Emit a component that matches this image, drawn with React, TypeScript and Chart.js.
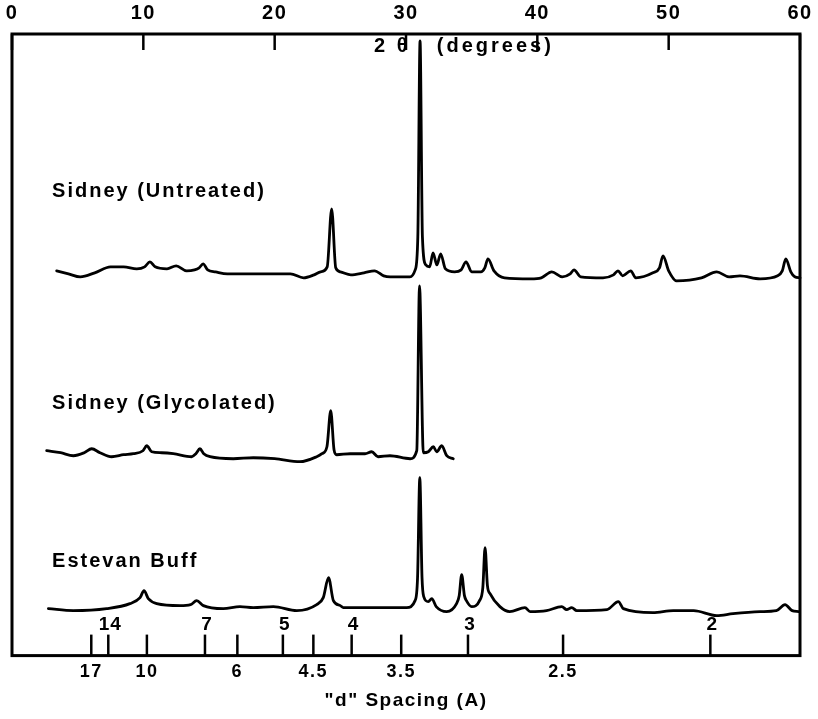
import React, { useEffect, useRef } from 'react';
import { Chart, registerables } from 'chart.js';

Chart.register(...registerables);

// Co K-alpha wavelength (Å) used to place the "d" spacing ticks on the 2θ scale
const WAVELENGTH = 1.7902;

const topTicks = [0, 10, 20, 30, 40, 50, 60];
const dBelow = ['17', '10', '6', '4.5', '3.5', '2.5'];
const dAbove = ['14', '7', '5', '4', '3', '2'];

const traceNames = ['Sidney (Untreated)', 'Sidney (Glycolated)', 'Estevan Buff'];
const traceOffsets = [379, 200, 48];

const untreated2Theta = [3.4, 4.3, 5.2, 6.3, 7.5, 8.5, 9.5, 10.1, 10.5, 10.9, 11.8, 12.5, 13.3, 13.9, 14.25, 14.55, 14.9, 15.5, 16.4, 18.5, 21.2, 22.2, 23.0, 23.5, 24.0, 24.34, 24.65, 25.0, 25.8, 26.8, 27.6, 28.3, 28.8, 30.3, 30.7, 30.9, 31.07, 31.25, 31.5, 31.8, 32.06, 32.35, 32.64, 33.0, 33.7, 34.2, 34.57, 35.0, 35.7, 36.0, 36.24, 36.7, 37.5, 39.5, 40.3, 41.1, 41.9, 42.5, 42.79, 43.3, 45.0, 45.8, 46.14, 46.5, 47.11, 47.5, 48.8, 49.3, 49.57, 50.0, 50.6, 52.5, 53.66, 54.6, 55.43, 56.96, 58.3, 58.65, 58.92, 59.3, 59.6, 60];
const untreatedIntensity = [6, 3, 0, 4, 10, 10, 8, 10, 15, 10, 8, 11, 6, 7, 9, 13, 7, 5, 3, 3, 3, -1, 2, 5, 10, 68, 9, 5, 2, 4, 6, 1, 0, 0, 7, 40, 236, 40, 12, 10, 24, 12, 23, 8, 5, 7, 15, 5, 5, 9, 18, 6, -1, -2, -1, 5, 0, 3, 7, 0, -1, 2, 6, 1, 6, -1, 4, 9, 21, 6, -4, -1, 5, 0, 1, -2, 1, 6, 18, 5, 0, -1];

const glycolated2Theta = [2.64, 3.7, 4.67, 5.5, 6.07, 6.7, 7.59, 8.5, 9.24, 9.97, 10.26, 10.64, 11.4, 12.28, 13.68, 14.0, 14.31, 14.6, 15.08, 16.85, 18.37, 20.0, 21.93, 23.2, 23.6, 23.98, 24.27, 24.52, 24.72, 25.74, 26.88, 27.39, 27.87, 28.78, 30.31, 30.82, 31.03, 31.32, 31.7, 32.08, 32.34, 32.72, 33.1, 33.6];
const glycolatedIntensity = [5, 3, 0, 3, 7, 3, -1, 1, 2, 5, 10, 4, 3, 2, -1, 2, 7, 2, -1, -3, -2, -3, -6, -1, 2, 9, 45, 6, 1, 2, 2, 4, -1, 0, -3, 5, 170, 3, 4, 9, 4, 10, 0, -3];

const estevan2Theta = [2.77, 4.67, 7.21, 8.98, 9.75, 10.05, 10.38, 11.02, 12.79, 13.6, 14.06, 14.57, 16.09, 17.36, 18.37, 19.9, 21.68, 23.2, 23.7, 24.1, 24.47, 25.0, 25.23, 27.51, 30.05, 30.69, 30.88, 31.05, 31.22, 31.35, 31.7, 31.96, 32.3, 33.1, 33.85, 34.05, 34.24, 34.45, 34.6, 35.0, 35.6, 35.85, 36.02, 36.2, 36.4, 37.15, 37.9, 39.06, 39.45, 40.7, 41.86, 42.23, 42.62, 43.0, 45.3, 46.17, 46.55, 48.8, 50.35, 51.9, 53.66, 54.9, 56.96, 58.2, 58.86, 59.4, 59.9];
const estevanIntensity = [-1, -3, -1, 4, 10, 17, 9, 4, 2, 3, 7, 2, -1, 1, 0, 1, -3, 3, 10, 30, 7, 2, 0, 0, 0, 7, 30, 130, 30, 11, 6, 9, 1, -4, 4, 12, 33, 12, 7, 1, 7, 20, 60, 22, 14, 1, -4, 0, -4, -3, 1, -2, 0, -3, -2, 6, -1, -5, -3, -3, -8, -6, -4, -3, 3, -3, -4];

const FONT = "'Liberation Sans', Arial, sans-serif";

function twoTheta(d: number): number {
  return (2 * Math.asin(WAVELENGTH / (2 * d)) * 180) / Math.PI;
}

function buildPoints(tt: number[], inten: number[], offset: number) {
  return tt.map((t, i) => ({ x: t, y: offset + inten[i] }));
}

const decorPlugin = {
  id: 'xrdDecor',
  beforeDraw(chart: any) {
    (chart.ctx as any).letterSpacing = '1.5px';
  },
  afterDraw(chart: any) {
    const { ctx, chartArea: a, scales } = chart;
    const xs = scales.x;
    const xt = scales.xTop;
    const ys = scales.y;
    ctx.save();
    ctx.strokeStyle = '#000';
    ctx.fillStyle = '#000';
    ctx.lineCap = 'butt';
    // frame
    ctx.lineWidth = 3;
    ctx.strokeRect(a.left, a.top, a.right - a.left, a.bottom - a.top);
    // top inner ticks
    ctx.lineWidth = 2.5;
    for (const t of xt.ticks) {
      const px = xt.getPixelForValue(t.value);
      ctx.beginPath();
      ctx.moveTo(px, a.top);
      ctx.lineTo(px, a.top + 16);
      ctx.stroke();
    }
    // bottom inner ticks
    for (const d of [...dBelow, ...dAbove]) {
      const px = xs.getPixelForValue(twoTheta(parseFloat(d)));
      ctx.beginPath();
      ctx.moveTo(px, a.bottom);
      ctx.lineTo(px, a.bottom - 21);
      ctx.stroke();
    }
    // labels above inner ticks
    ctx.font = `bold 19px ${FONT}`;
    (ctx as any).letterSpacing = '1px';
    ctx.textAlign = 'center';
    ctx.textBaseline = 'middle';
    for (const d of dAbove) {
      const px = xs.getPixelForValue(twoTheta(parseFloat(d)));
      ctx.fillText(d, px + 2, a.bottom - 31);
    }
    // 2θ caption
    ctx.font = `bold 20px ${FONT}`;
    (ctx as any).letterSpacing = '3px';
    ctx.textAlign = 'right';
    ctx.fillText('2 θ', xt.getPixelForValue(30.35), a.top + 12);
    ctx.textAlign = 'left';
    ctx.fillText('(degrees)', xt.getPixelForValue(32.35), a.top + 12);
    // trace names
    const nameX = xs.getPixelForValue(3.05);
    const nameRise = [85, 52, 46];
    ctx.font = `bold 20px ${FONT}`;
    (ctx as any).letterSpacing = '2px';
    traceNames.forEach((n, i) => {
      ctx.fillText(n, nameX, ys.getPixelForValue(traceOffsets[i] + nameRise[i]));
    });
    ctx.restore();
    (ctx as any).letterSpacing = '0px';
  },
};

export default function App() {
  const ref = useRef<HTMLCanvasElement | null>(null);

  useEffect(() => {
    if (!ref.current) return;
    const lineStyle = {
      borderColor: '#000',
      borderWidth: 2.8,
      pointRadius: 0,
      fill: false,
      cubicInterpolationMode: 'monotone' as const,
      borderJoinStyle: 'round' as const,
      borderCapStyle: 'round' as const,
      clip: false as any,
    };
    const chart = new Chart(ref.current, {
      type: 'line',
      data: {
        datasets: [
          { label: traceNames[0], data: buildPoints(untreated2Theta, untreatedIntensity, traceOffsets[0]), ...lineStyle },
          { label: traceNames[1], data: buildPoints(glycolated2Theta, glycolatedIntensity, traceOffsets[1]), ...lineStyle },
          { label: traceNames[2], data: buildPoints(estevan2Theta, estevanIntensity, traceOffsets[2]), ...lineStyle },
        ],
      },
      options: {
        responsive: false,
        maintainAspectRatio: false,
        animation: false,
        devicePixelRatio: 1,
        parsing: false,
        layout: { padding: { left: 12, right: 18, top: -8, bottom: 5 } },
        plugins: { legend: { display: false }, tooltip: { enabled: false } },
        scales: {
          x: {
            type: 'linear',
            position: 'bottom',
            min: 0,
            max: 60,
            afterBuildTicks: (axis: any) => {
              axis.ticks = dBelow.map((d) => ({ value: twoTheta(parseFloat(d)) }));
            },
            ticks: {
              autoSkip: false,
              maxRotation: 0,
              padding: 6,
              color: '#000',
              font: { family: FONT, size: 18, weight: 'bold' },
              callback: (_v: any, i: number) => dBelow[i],
            },
            grid: { display: false, drawTicks: false, drawOnChartArea: false },
            border: { display: false },
            title: {
              display: true,
              text: '"d" Spacing (A)',
              color: '#000',
              font: { family: FONT, size: 19, weight: 'bold' },
              padding: { top: 0, bottom: 2 },
            },
          },
          xTop: {
            type: 'linear',
            position: 'top',
            min: 0,
            max: 60,
            afterBuildTicks: (axis: any) => {
              axis.ticks = topTicks.map((v) => ({ value: v }));
            },
            ticks: {
              autoSkip: false,
              maxRotation: 0,
              padding: 1,
              color: '#000',
              font: { family: FONT, size: 20, weight: 'bold', lineHeight: 2 },
            },
            grid: { display: false, drawTicks: false, drawOnChartArea: false },
            border: { display: false },
          },
          y: { type: 'linear', display: false, min: 0, max: 622 },
        },
      },
      plugins: [decorPlugin],
    } as any);
    return () => chart.destroy();
  }, []);

  return (
    <div style={{ position: 'absolute', left: 0, top: 0, width: 818, height: 719, background: '#fff' }}>
      <canvas ref={ref} width={818} height={719} style={{ width: 818, height: 719 }} />
    </div>
  );
}
